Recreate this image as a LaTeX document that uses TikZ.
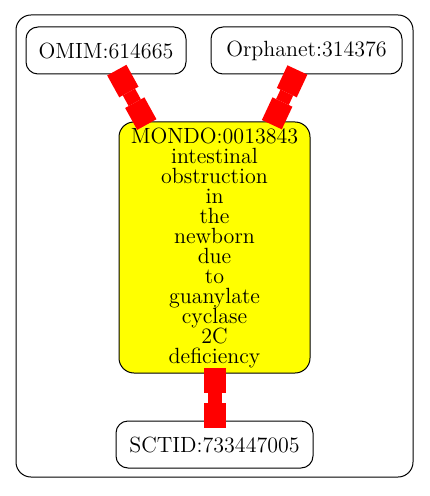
\documentclass[tikz,border=0pt]{standalone}
\usetikzlibrary{arrows.meta}
\definecolor{pureyellow}{RGB}{255,255,0}
\definecolor{purered}{RGB}{255,0,0}
\begin{document}
\begin{tikzpicture}[x=0.5pt,y=-0.5pt,
  box/.style={draw=black, line width=0.5pt, rounded corners=6pt, inner sep=0pt,
    font=\fontsize{11}{10}\selectfont, align=center},
  linktip/.tip={Rectangle[length=12.5pt,width=11pt,line width=0pt]},
  link/.style={draw=purered, line width=7pt, linktip-linktip}
]
\useasboundingbox (0,0) rectangle (429,496);
\draw[line width=0.5pt, rounded corners=7.5pt] (16,15) rectangle (413,477);
\node[box, minimum width=80pt, minimum height=23.5pt] (omim) at (106,50.5) {OMIM:614665};
\node[box, minimum width=95.5pt, minimum height=23.5pt] (orpha) at (306.5,50.5) {Orphanet:314376};
\node[box, fill=pureyellow, rounded corners=7.5pt, minimum width=95.5pt, minimum height=125.5pt] (mondo) at (214.5,247.5)
  {MONDO:0013843\\intestinal\\obstruction\\in\\the\\newborn\\due\\to\\guanylate\\cyclase\\2C\\deficiency};
\node[box, minimum width=98.5pt, minimum height=23.5pt] (sctid) at (214.5,444.5) {SCTID:733447005};
\draw[link, shorten <=-2.5pt, shorten >=-1.75pt] (omim) -- (mondo);
\draw[link, shorten <=-2.5pt, shorten >=-1.75pt] (orpha) -- (mondo);
\draw[link, shorten <=-3pt, shorten >=-3.5pt] (mondo) -- (sctid);
\end{tikzpicture}
\end{document}
